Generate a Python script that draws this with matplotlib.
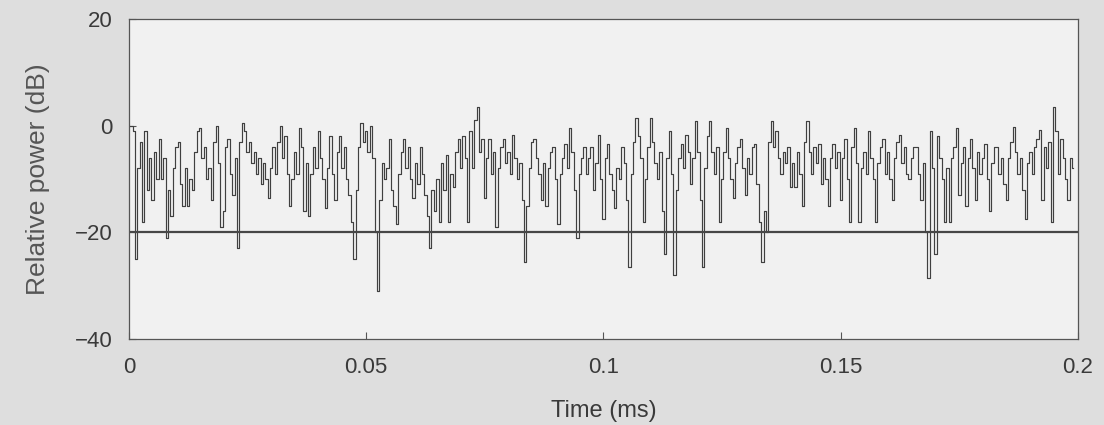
import numpy as np
import matplotlib
matplotlib.use("Agg")
import matplotlib.pyplot as plt

plt.rcParams['font.family'] = ['Liberation Sans', 'DejaVu Sans']

# Sample spacing of the trace (ms)
dt = 0.0005

# Relative received power (dB), one value per dt
power_db = [
    0, 0, -1, -25, -8, -3, -18, -1, -12, -6, -14, -5, -10, -2.5, -10, -6, -21, -12, -17, -8,
    -4, -3, -11, -15, -8, -15, -10, -12, -5, -1, -0.5, -6, -4, -10, -8, -14, -3, 0, -7, -19,
    -16, -4, -2.5, -9, -13, -6, -23, -3, 0.5, -1, -5, -3, -7, -5, -9, -6, -11, -7, -10, -13.5,
    -8, -4, -9, -3, 0, -6, -2, -9, -15, -10, -5, -9, -0.5, -4, -16, -7, -17, -9, -4, -8,
    -1, -6, -10, -15.5, -8, -2, -9, -14, -5, -2, -8, -4, -10, -13, -18, -25, -12, -4, 0.5, -3,
    -1, -5, 0, -6, -20, -31, -14, -7, -10, -8, -2.5, -12, -15, -18.5, -9, -5, -2.5, -8, -4, -10,
    -13.5, -7, -11, -4, -9, -13, -17, -23, -12, -16, -10, -18, -7, -12, -5.5, -18, -9, -11.5, -5, -2.5,
    -8, -2, -6, -18, -1, -8, 1, 3.5, -5, -2.5, -13.5, -6, -2.5, -9, -5, -19, -8, -4, -2.5, -7,
    -5, -9, -1.7, -6, -10, -7, -14, -25.5, -15, -8, -3, -2.5, -6, -9, -14, -7, -15, -8, -5, -4,
    -10, -18.5, -9, -6, -3.5, -8, -0.5, -5, -12, -21, -9, -6, -4, -9, -6, -4, -12, -7, -1.7, -10,
    -17.5, -6, -3.5, -9, -12, -15.5, -8, -10, -4, -7, -14, -26.5, -9, -3, 1.5, -2, -6, -18, -10, -4,
    1.5, -3, -7, -10, -5, -16, -24, -6, -1, -9, -28, -12, -6, -3.5, -8, -1.7, -5, -11, -6, 0.8,
    -5, -14, -26.5, -8, -2, 0.8, -5, -9, -4, -18, -10, -5, -0.4, -6, -10, -13.5, -7, -4, -2.5, -8,
    -13, -6, -9, -4, -3.5, -11, -18, -25.5, -16, -20, -3, 0.8, -4, -1, -6, -9, -5, -7, -4, -11.5,
    -7, -11.5, -5, -9, -15, -3, 0.8, -5, -9, -4, -7, -3.5, -11, -6, -10, -15, -6, -3.5, -8, -5,
    -14, -6, -2.5, -10, -18, -4, -0.4, -7, -18, -8, -5, -9, -1, -6, -10, -18, -7, -4, -2.5, -9,
    -5, -10, -14, -6, -3, -1.7, -7, -4, -9, -10, -6, -4, -4, -9, -14, -7, -20, -28.5, -1, -8,
    -24, -2, -6, -10, -18, -8, -18, -6, -4, -0.4, -13, -7, -4, -15, -6, -2.5, -8, -14, -5, -9,
    -6, -3.5, -10, -16, -7, -4, -4, -9, -6, -11, -14, -6, -3, -0.2, -5, -9, -6, -12, -17.5, -7,
    -5, -9, -4, -2.5, -0.9, -14, -4, -8, -3, -18, 3.5, -1, -9, -2.5, -6, -10, -14, -6, -8,
]
time_ms = np.arange(len(power_db)) * dt

threshold_db = -20

x_ticks = [0, 0.05, 0.1, 0.15, 0.2]
x_labels = ['0', '0.05', '0.1', '0.15', '0.2']
y_ticks = [-40, -20, 0, 20]

fig = plt.figure(figsize=(11.04, 4.25), dpi=100, facecolor='#dedede')
ax = fig.add_axes([0.1168, 0.2024, 0.8596, 0.7529])
ax.set_facecolor('#f1f1f1')

# steps give the vertical strokes of the printed trace
ax.plot(time_ms, power_db, color='#404040', lw=0.85, drawstyle='steps-mid')
ax.axhline(threshold_db, color='#474747', lw=1.6)

ax.set_xlim(0, 0.2)
ax.set_ylim(-40, 20)
ax.set_xticks(x_ticks)
ax.set_xticklabels(x_labels)
ax.set_yticks(y_ticks)
ax.tick_params(direction='in', length=5, width=0.8, colors='#555555',
               labelcolor='#3a3a3a', labelsize=16)
ax.tick_params(axis='x', pad=13)
ax.tick_params(axis='y', pad=12)
for s in ax.spines.values():
    s.set_color('#555555')
    s.set_linewidth(0.9)

ax.set_xlabel('Time (ms)', fontsize=17, color='#3a3a3a', labelpad=16)
ax.set_ylabel('Relative power (dB)', fontsize=19, color='#555555', labelpad=18)

fig.savefig('out.png', dpi=100, facecolor=fig.get_facecolor())
